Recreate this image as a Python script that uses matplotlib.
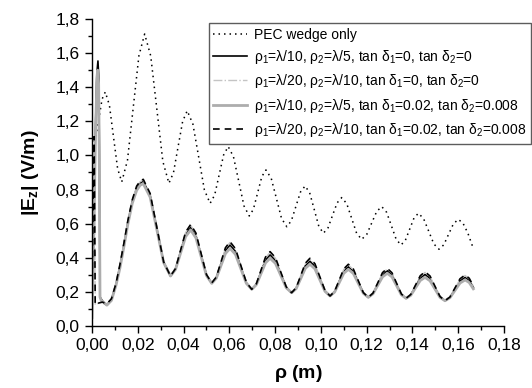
import matplotlib
matplotlib.use("Agg")
import matplotlib.pyplot as plt
from matplotlib.ticker import MultipleLocator, FuncFormatter

plt.rcParams['font.family'] = ['Liberation Sans', 'DejaVu Sans']
plt.rcParams['mathtext.fontset'] = 'custom'
plt.rcParams['mathtext.rm'] = 'Liberation Sans'
plt.rcParams['mathtext.it'] = 'Liberation Sans'
plt.rcParams['mathtext.bf'] = 'Liberation Sans:bold'
plt.rcParams['mathtext.default'] = 'regular'

# PEC wedge alone
rho_pec = [0.0010, 0.0022, 0.0033, 0.0044, 0.0058, 0.0076, 0.0094, 0.0112,
           0.0130, 0.0155, 0.0180, 0.0205, 0.0230, 0.02565, 0.0283, 0.03095,
           0.0336, 0.0356, 0.0376, 0.0396, 0.0416, 0.0441, 0.0466, 0.0491,
           0.0516, 0.0536, 0.05555, 0.0575, 0.0595, 0.0618, 0.0641, 0.0664,
           0.0687, 0.0705, 0.07235, 0.0742, 0.0760, 0.0783, 0.08055, 0.0828,
           0.0851, 0.0871, 0.0891, 0.0911, 0.0931, 0.0951, 0.0971, 0.0991,
           0.1011, 0.1031, 0.1051, 0.1071, 0.1091, 0.1113, 0.11345, 0.1156,
           0.1178, 0.1200, 0.1222, 0.1244, 0.1266, 0.1287, 0.1308, 0.1329,
           0.1350, 0.1369, 0.1388, 0.1407, 0.1426, 0.14485, 0.1471, 0.14935,
           0.1516, 0.1537, 0.1558, 0.1579, 0.1600, 0.1620, 0.1642, 0.1665]
ez_pec = [1.08, 1.15, 1.24, 1.33, 1.372, 1.295, 1.108, 0.922,
          0.845, 0.972, 1.279, 1.585, 1.712, 1.584, 1.275, 0.965,
          0.837, 0.899, 1.050, 1.200, 1.262, 1.183, 0.991, 0.798,
          0.719, 0.768, 0.886, 1.003, 1.052, 0.993, 0.849, 0.704,
          0.645, 0.684, 0.780, 0.876, 0.915, 0.866, 0.749, 0.631,
          0.582, 0.617, 0.702, 0.786, 0.821, 0.781, 0.683, 0.584,
          0.544, 0.575, 0.649, 0.722, 0.753, 0.717, 0.631, 0.544,
          0.508, 0.536, 0.604, 0.672, 0.700, 0.667, 0.588, 0.508,
          0.475, 0.502, 0.568, 0.634, 0.661, 0.630, 0.556, 0.481,
          0.450, 0.476, 0.538, 0.599, 0.625, 0.605, 0.545, 0.458]

# common rho grid past the tip region
rho_tail = [0.0065, 0.0085, 0.0105, 0.0122, 0.0140, 0.0157, 0.0176, 0.0195, 0.0210,
            0.0224, 0.0254, 0.02835, 0.0313, 0.0343, 0.0365, 0.0387, 0.0409,
            0.0431, 0.0454, 0.0477, 0.0500, 0.0523, 0.0543, 0.0563, 0.0583,
            0.0603, 0.06268, 0.06505, 0.06743, 0.0698, 0.0718, 0.0738, 0.0758,
            0.0778, 0.08015, 0.0825, 0.08485, 0.0872, 0.0892, 0.0912, 0.0932,
            0.0952, 0.0974, 0.0996, 0.1018, 0.1040, 0.1060, 0.1080, 0.1100,
            0.1120, 0.11418, 0.11635, 0.11853, 0.1207, 0.12278, 0.12485, 0.12693,
            0.1290, 0.13105, 0.1331, 0.13515, 0.1372, 0.13928, 0.14135, 0.14343,
            0.1455, 0.14768, 0.14985, 0.15203, 0.1542, 0.1564, 0.1586, 0.1608,
            0.1630, 0.1648, 0.1666]

# rho1 = lambda/10, rho2 = lambda/5, lossless
rho_a_tip = [0.0000, 0.0008, 0.0015, 0.0021, 0.0026, 0.0030, 0.0032, 0.0034, 0.0035, 0.0045, 0.0055]
ez_a_tip = [0.10, 0.60, 1.15, 1.48, 1.554, 1.45, 1.05, 0.45, 0.17, 0.148, 0.130]
ez_a_tail = [0.124, 0.155, 0.245, 0.350, 0.480, 0.610, 0.730, 0.808, 0.838,
             0.848, 0.767, 0.570, 0.374, 0.293, 0.335, 0.436, 0.538,
             0.579, 0.531, 0.415, 0.299, 0.251, 0.284, 0.363, 0.442,
             0.475, 0.437, 0.345, 0.253, 0.215, 0.245, 0.316, 0.387,
             0.417, 0.384, 0.306, 0.227, 0.195, 0.222, 0.287, 0.353,
             0.380, 0.350, 0.278, 0.206, 0.176, 0.201, 0.262, 0.322,
             0.347, 0.321, 0.258, 0.194, 0.168, 0.191, 0.246, 0.300,
             0.324, 0.300, 0.243, 0.186, 0.162, 0.183, 0.232, 0.281,
             0.302, 0.279, 0.225, 0.171, 0.148, 0.168, 0.216, 0.264,
             0.285, 0.268, 0.227]

# rho1 = lambda/20, rho2 = lambda/10, lossless
rho_b_tip = [0.0000, 0.0005, 0.0009, 0.0012, 0.0014, 0.0030, 0.0045, 0.0055]
ez_b_tip = [0.13, 0.72, 1.06, 0.58, 0.125, 0.135, 0.140, 0.135]
ez_b_tail = [0.129, 0.158, 0.248, 0.357, 0.487, 0.617, 0.737, 0.816, 0.846,
             0.856, 0.774, 0.574, 0.375, 0.293, 0.336, 0.442, 0.548,
             0.591, 0.541, 0.421, 0.301, 0.252, 0.286, 0.370, 0.455,
             0.490, 0.450, 0.352, 0.255, 0.215, 0.246, 0.323, 0.400,
             0.432, 0.397, 0.313, 0.229, 0.195, 0.223, 0.294, 0.365,
             0.393, 0.362, 0.284, 0.207, 0.176, 0.202, 0.267, 0.332,
             0.358, 0.330, 0.263, 0.195, 0.168, 0.192, 0.251, 0.310,
             0.334, 0.309, 0.248, 0.187, 0.162, 0.184, 0.238, 0.292,
             0.314, 0.290, 0.231, 0.172, 0.148, 0.170, 0.222, 0.274,
             0.296, 0.277, 0.233]

# rho1 = lambda/10, rho2 = lambda/5, lossy
rho_c_tip = [0.0000, 0.0008, 0.0015, 0.0021, 0.0025, 0.0029, 0.0032, 0.0034, 0.0035, 0.0040, 0.0050]
ez_c_tip = [0.05, 0.55, 1.10, 1.42, 1.50, 1.42, 1.00, 0.40, 0.17, 0.150, 0.140]
ez_c_tail = [0.122, 0.150, 0.240, 0.340, 0.470, 0.600, 0.720, 0.795, 0.825,
             0.835, 0.756, 0.564, 0.372, 0.293, 0.332, 0.428, 0.524,
             0.563, 0.517, 0.4065, 0.296, 0.250, 0.280, 0.3525, 0.425,
             0.455, 0.420, 0.335, 0.250, 0.215, 0.242, 0.306, 0.370,
             0.397, 0.367, 0.296, 0.224, 0.195, 0.219, 0.2785, 0.338,
             0.362, 0.335, 0.269, 0.203, 0.176, 0.199, 0.254, 0.309,
             0.332, 0.308, 0.250, 0.192, 0.168, 0.189, 0.2385, 0.288,
             0.309, 0.288, 0.2355, 0.183, 0.162, 0.180, 0.2235, 0.267,
             0.285, 0.265, 0.2165, 0.168, 0.148, 0.166, 0.209, 0.252,
             0.270, 0.255, 0.218]

# rho1 = lambda/20, rho2 = lambda/10, lossy
rho_d_tip = [0.0000, 0.0005, 0.0009, 0.0012, 0.0014, 0.0030, 0.0045, 0.0055]
ez_d_tip = [0.13, 0.75, 1.11, 0.60, 0.125, 0.135, 0.140, 0.135]
ez_d_tail = [0.130, 0.160, 0.250, 0.360, 0.490, 0.620, 0.740, 0.820, 0.850,
             0.860, 0.777, 0.5765, 0.376, 0.293, 0.337, 0.444, 0.551,
             0.595, 0.545, 0.4235, 0.302, 0.252, 0.287, 0.373, 0.459,
             0.494, 0.453, 0.3545, 0.256, 0.215, 0.247, 0.3255, 0.404,
             0.436, 0.401, 0.3155, 0.230, 0.195, 0.224, 0.296, 0.368,
             0.397, 0.365, 0.2865, 0.208, 0.176, 0.203, 0.269, 0.335,
             0.362, 0.334, 0.265, 0.196, 0.168, 0.193, 0.253, 0.313,
             0.338, 0.312, 0.250, 0.188, 0.162, 0.185, 0.240, 0.295,
             0.318, 0.293, 0.233, 0.173, 0.148, 0.170, 0.2235, 0.277,
             0.299, 0.280, 0.235]

labels = ['PEC wedge only',
          r'$\rho_1$=$\lambda$/10, $\rho_2$=$\lambda$/5, tan $\delta_1$=0, tan $\delta_2$=0',
          r'$\rho_1$=$\lambda$/20, $\rho_2$=$\lambda$/10, tan $\delta_1$=0, tan $\delta_2$=0',
          r'$\rho_1$=$\lambda$/10, $\rho_2$=$\lambda$/5, tan $\delta_1$=0.02, tan $\delta_2$=0.008',
          r'$\rho_1$=$\lambda$/20, $\rho_2$=$\lambda$/10, tan $\delta_1$=0.02, tan $\delta_2$=0.008']

fig = plt.figure(figsize=(5.32, 3.88), dpi=100)
ax = fig.add_axes([92/532, 62/388, 412/532, 307/388])

ax.plot(rho_pec, ez_pec, color='black', linestyle=(0, (1, 2.6)), linewidth=1.1, label=labels[0])
ax.plot(rho_a_tip + rho_tail, ez_a_tip + ez_a_tail, color='black', linewidth=1.2, label=labels[1])
ax.plot(rho_b_tip + rho_tail, ez_b_tip + ez_b_tail, color='#c4c4c4', linestyle='-.',
        linewidth=1.0, label=labels[2])
ax.plot(rho_c_tip + rho_tail, ez_c_tip + ez_c_tail, color='#adadad', linewidth=2.0, label=labels[3])
ax.plot(rho_d_tip + rho_tail, ez_d_tip + ez_d_tail, color='black', linestyle=(0, (4, 3)),
        linewidth=1.2, label=labels[4])

ax.set_xlim(0, 0.18)
ax.set_ylim(0, 1.8)
ax.xaxis.set_major_locator(MultipleLocator(0.02))
ax.xaxis.set_minor_locator(MultipleLocator(0.01))
ax.yaxis.set_major_locator(MultipleLocator(0.2))
ax.yaxis.set_minor_locator(MultipleLocator(0.1))
ax.xaxis.set_major_formatter(FuncFormatter(lambda v, p: f'{v:.2f}'.replace('.', ',')))
ax.yaxis.set_major_formatter(FuncFormatter(lambda v, p: f'{v:.1f}'.replace('.', ',')))
ax.tick_params(which='major', direction='out', length=5, width=1, labelsize=12.5, pad=4)
ax.tick_params(which='minor', direction='out', length=3, width=1)

for side in ['top', 'right']:
    ax.spines[side].set_visible(False)
for side in ['left', 'bottom']:
    ax.spines[side].set_linewidth(1.0)

ax.set_xlabel(r'$\rho$ (m)', fontsize=14, fontweight='bold', labelpad=7)
ax.set_ylabel(r'|E$_{\mathbf{z}}$| (V/m)', fontsize=14, fontweight='bold', labelpad=10)

leg = fig.legend(loc='upper right', bbox_to_anchor=(531/532, 1 - 23/388), fontsize=10,
                 frameon=True, fancybox=False, handlelength=2.45, labelspacing=0.45,
                 borderpad=0.35, handletextpad=0.45, borderaxespad=0)
leg.get_frame().set_edgecolor('#333333')
leg.get_frame().set_linewidth(1.0)

fig.savefig('out.png', dpi=100)
